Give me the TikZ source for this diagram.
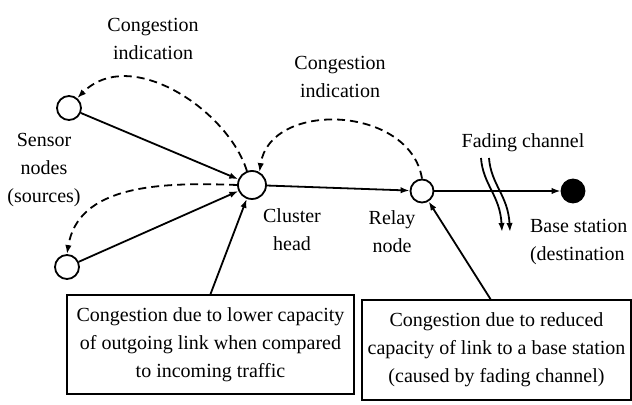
\documentclass[tikz,border=0pt]{standalone}
\usepackage{fontspec}
\setmainfont{Liberation Serif}
\usetikzlibrary{arrows.meta}

\begin{document}
\begin{tikzpicture}[x=0.5pt, y=-0.5pt,
    noeud/.style={draw, circle, line width=0.9pt, inner sep=0pt, minimum size=12pt},
    lien/.style={line width=0.9pt, -{Latex[length=4.5pt, width=3.2pt]}},
    retour/.style={lien, dash pattern=on 4pt off 2.5pt},
    texte/.style={align=center, font=\fontsize{10}{14}\selectfont},
    boite/.style={texte, draw, line width=0.9pt, inner sep=0pt}]
  \useasboundingbox (0, 0) rectangle (632, 405);

    % noeuds
    \node[noeud] (s1) at (69, 108) {};
    \node[noeud] (s2) at (67, 267) {};
    \node[noeud, minimum size=14pt] (ch) at (252, 185) {};
    \node[noeud, minimum size=11.5pt] (rn) at (422, 191) {};
    \node[noeud, fill=black, minimum size=11.5pt] (bs) at (573, 191) {};

    % textes
    \node[texte] (ci1) at (153, 39) {Congestion\\indication};
    \node[texte] (ci2) at (340, 77) {Congestion\\indication};
    \node[texte] (fc) at (523, 143) {Fading channel};
    \node[texte] (sn) at (44, 170) {Sensor\\nodes\\(sources)};
    \node[texte] (chl) at (292, 230) {Cluster\\head};
    \node[texte] (rnl) at (392, 232) {Relay\\node};
    \node[texte, align=left, anchor=west] (bsl) at (523, 242) {Base station\\(destination};

    % boites
    \node[boite, minimum width=143.5pt, minimum height=49.5pt] (b1) at (210.5, 344.5)
        {Congestion due to lower capacity\\of outgoing link when compared\\to incoming traffic};
    \node[boite, minimum width=134.5pt, minimum height=50pt] (b2) at (496.5, 350)
        {Congestion due to reduced\\capacity of link to a base station\\(caused by fading channel)};

    % liens
    \draw[lien] (s1) -- (ch);
    \draw[lien] (s2) -- (ch);
    \draw[lien] (ch) -- (rn);
    \draw[lien] (rn) -- (bs);
    \draw[lien] (b1.north) -- (ch);
    \draw[lien] ([xshift=-3pt]b2.north) -- (rn);

    % indications de congestion
    \draw[retour] (ch.110) .. controls (228, 110) and (130, 45) .. (s1.50);
    \draw[retour] (ch.180) .. controls (160, 182) and (78, 185) .. (s2.north);
    \draw[retour] (rn.north) .. controls (410, 105) and (270, 100) .. (ch.60);

    % canal
    \coordinate (f1) at (481, 158);
    \coordinate (f2) at (502, 232);
    \coordinate (f3) at (489, 158);
    \coordinate (f4) at (510, 232);
    \draw[lien] (f1) .. controls (483, 185) and (500, 195) .. (f2);
    \draw[lien] (f3) .. controls (491, 185) and (508, 195) .. (f4);

\end{tikzpicture}
\end{document}
